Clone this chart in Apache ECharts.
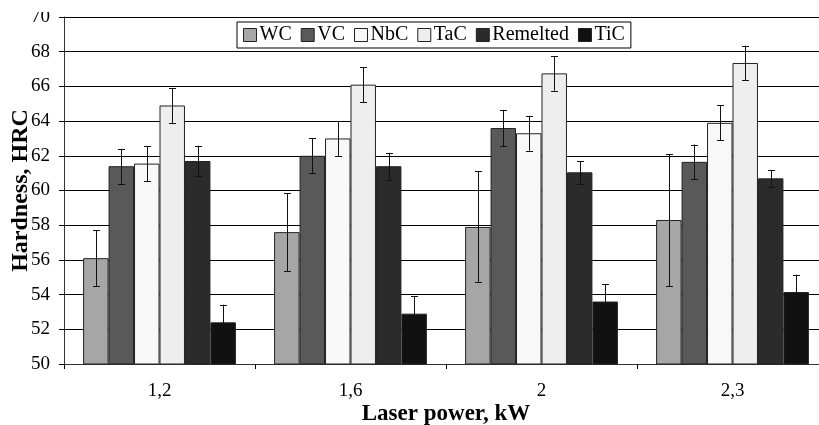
<!DOCTYPE html>
<html><head><meta charset="utf-8">
<script src="https://cdn.jsdelivr.net/npm/echarts@6/dist/echarts.min.js"></script>
<style>html,body{margin:0;padding:0;background:#fff}#c{width:819px;height:425px}</style>
</head><body><div id="c"></div>
<script>
const categories = ['1,2', '1,6', '2', '2,3'];
const seriesNames = ['WC', 'VC', 'NbC', 'TaC', 'Remelted', 'TiC'];
const wc = [56.1, 57.6, 57.9, 58.3];
const vc = [61.4, 62.0, 63.6, 61.65];
const nbc = [61.55, 63.0, 63.3, 63.9];
const tac = [64.9, 66.1, 66.75, 67.35];
const remelted = [61.7, 61.4, 61.05, 60.7];
const tic = [52.4, 52.9, 53.6, 54.15];
const wcErr = [1.6, 2.25, 3.2, 3.8];
const vcErr = [1.0, 1.0, 1.05, 1.0];
const nbcErr = [1.0, 1.0, 1.0, 1.0];
const tacErr = [1.0, 1.0, 1.0, 1.0];
const remeltedErr = [0.88, 0.77, 0.65, 0.48];
const ticErr = [1.02, 1.0, 1.0, 1.0];
const yTicks = [50, 52, 54, 56, 58, 60, 62, 64, 66, 68, 70];

const values = [wc, vc, nbc, tac, remelted, tic];
const errs = [wcErr, vcErr, nbcErr, tacErr, remeltedErr, ticErr];
const colors = ['#a6a6a6', '#595959', '#f8f8f8', '#eeeeee', '#2b2b2b', '#111111'];
const FONT = '"Liberation Serif", "Times New Roman", serif';
const nS = seriesNames.length;
const catGap = 0.2;

const series = [];
seriesNames.forEach((n, i) => {
  series.push({
    name: n, type: 'bar', data: values[i],
    barGap: '0%', barCategoryGap: '20%',
    itemStyle: { color: colors[i], borderColor: '#222', borderWidth: 1 }
  });
});
seriesNames.forEach((n, i) => {
  series.push({
    name: n + '_err', type: 'custom',
    data: values[i].map((v, k) => [k, v - errs[i][k], v + errs[i][k]]),
    encode: { x: 0, y: [1, 2] },
    z: 10,
    renderItem: function (params, api) {
      const k = api.value(0);
      const lo = api.coord([k, api.value(1)]);
      const hi = api.coord([k, api.value(2)]);
      const catW = api.size([1, 0])[0];
      const bw = catW * (1 - catGap) / nS;
      const x = Math.round(lo[0] + (i - (nS - 1) / 2) * bw) + 0.5;
      const cap = 3.5;
      const st = { stroke: '#111', lineWidth: 1 };
      return { type: 'group', children: [
        { type: 'line', shape: { x1: x, y1: lo[1], x2: x, y2: hi[1] }, style: st },
        { type: 'line', shape: { x1: x - cap, y1: Math.round(lo[1]) + 0.5, x2: x + cap, y2: Math.round(lo[1]) + 0.5 }, style: st },
        { type: 'line', shape: { x1: x - cap, y1: Math.round(hi[1]) + 0.5, x2: x + cap, y2: Math.round(hi[1]) + 0.5 }, style: st }
      ]};
    }
  });
});

const chart = echarts.init(document.getElementById('c'));
chart.setOption({
  animation: false,
  backgroundColor: '#fff',
  textStyle: { fontFamily: FONT },
  grid: { left: 64, top: 17, width: 764, height: 347, containLabel: false, outerBoundsMode: 'none' },
  graphic: [{ type: 'rect', left: 0, top: 0, z: 100, shape: { width: 62, height: 12 }, style: { fill: '#fff' } }],
  legend: {
    data: seriesNames,
    left: 237, top: 22,
    backgroundColor: '#fff', borderColor: '#000', borderWidth: 1,
    padding: [3, 6, 3, 6],
    itemWidth: 13, itemHeight: 13, itemGap: 9,
    textStyle: { fontFamily: FONT, fontSize: 20, color: '#000', padding: [0, 0, 0, -2] },
    icon: 'rect',
    itemStyle: { borderColor: '#222', borderWidth: 1 }
  },
  xAxis: {
    type: 'category', data: categories,
    name: 'Laser power, kW', nameLocation: 'middle', nameGap: 39, nameMoveOverlap: false,
    nameTextStyle: { fontFamily: FONT, fontSize: 23, fontWeight: 'bold', color: '#000' },
    axisLine: { lineStyle: { color: '#333', width: 1 } },
    axisTick: { show: true, length: 5, lineStyle: { color: '#000' } },
    axisLabel: { fontFamily: FONT, fontSize: 19, color: '#000', margin: 18 }
  },
  yAxis: {
    type: 'value', min: 50, max: 70, interval: 2,
    name: 'Hardness, HRC', nameLocation: 'middle', nameGap: 31, nameMoveOverlap: false,
    nameTextStyle: { fontFamily: FONT, fontSize: 24, fontWeight: 'bold', color: '#000' },
    axisLine: { show: true, lineStyle: { color: '#333', width: 1 } },
    axisTick: { show: true, length: 5, lineStyle: { color: '#000' } },
    axisLabel: { fontFamily: FONT, fontSize: 19, color: '#000', margin: 14,
      formatter: v => yTicks.includes(v) ? String(v) : '' },
    splitLine: { show: true, lineStyle: { color: '#000', width: 1 } }
  },
  series: series
});
</script></body></html>
